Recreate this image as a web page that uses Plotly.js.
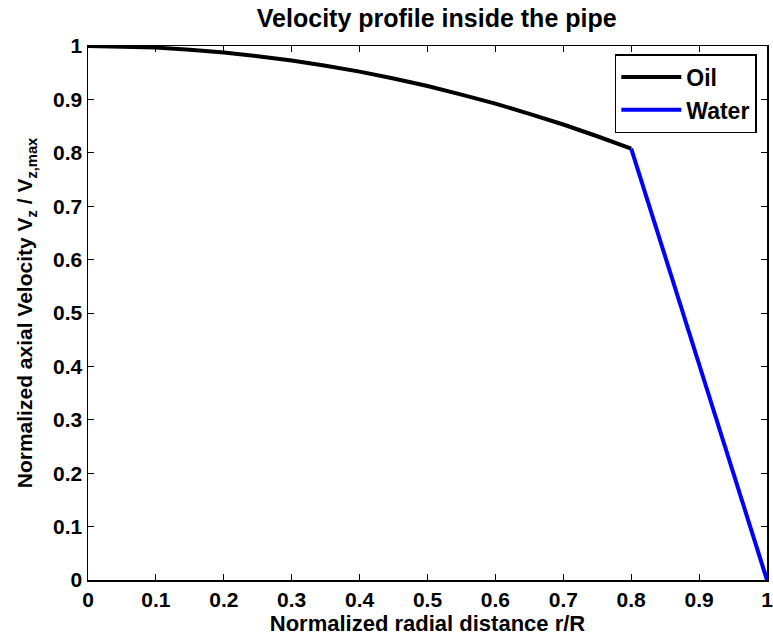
<!DOCTYPE html>
<html>
<head>
<meta charset="utf-8">
<script src="https://cdn.plot.ly/plotly-3.0.1.min.js"></script>
<style>html,body{margin:0;padding:0;background:#fff;}#chart{width:773px;height:639px;}</style>
</head>
<body>
<div id="chart"></div>
<script>
// Oil region (r/R from 0 to 0.8)
const oilR = [0, 0.05, 0.1, 0.15, 0.2, 0.25, 0.3, 0.35, 0.4, 0.45, 0.5, 0.55, 0.6, 0.65, 0.7, 0.75, 0.8];
const oilV = [1.000, 0.999, 0.997, 0.993, 0.988, 0.981, 0.973, 0.963, 0.952, 0.939, 0.925, 0.909, 0.892, 0.873, 0.853, 0.831, 0.808];
// Water region (r/R from 0.8 to 1)
const waterR = [0.8, 1.0];
const waterV = [0.808, 0.0];
const tickVals = [0, 0.1, 0.2, 0.3, 0.4, 0.5, 0.6, 0.7, 0.8, 0.9, 1];
const tickText = ['0', '0.1', '0.2', '0.3', '0.4', '0.5', '0.6', '0.7', '0.8', '0.9', '1'];

const fontFam = 'Liberation Sans, Arial, sans-serif';
const traces = [
  {x: oilR, y: oilV, mode: 'lines', name: '<b>Oil</b>', line: {color: '#000000', width: 4}},
  {x: waterR, y: waterV, mode: 'lines', name: '<b>Water</b>', line: {color: '#0000ff', width: 4}}
];
const axisCommon = {
  range: [0, 1], tickvals: tickVals, ticktext: tickText.map(t => '<b>' + t + '</b>'),
  ticks: 'inside', ticklen: 6, tickcolor: '#000', tickwidth: 1,
  showline: true, linecolor: '#000', linewidth: 1.5, mirror: 'ticks',
  showgrid: false, zeroline: false, ticklabeloverflow: 'allow',
  tickfont: {family: fontFam, size: 21, color: '#000'}
};
const layout = {
  width: 773, height: 639,
  margin: {l: 88, r: 6, t: 46, b: 59},
  paper_bgcolor: '#fff', plot_bgcolor: '#fff',
  font: {family: fontFam, color: '#000'},
  title: {text: '<b>Velocity profile inside the pipe</b>', font: {family: fontFam, size: 25, color: '#000'}, x: 0.565, xanchor: 'center', y: 0.972, yanchor: 'middle'},
  xaxis: Object.assign({}, axisCommon, {
    title: {text: '<b>Normalized radial distance r/R</b>', font: {family: fontFam, size: 22, color: '#000'}, standoff: 4}
  }),
  yaxis: Object.assign({}, axisCommon, {
    title: {text: '<b>Normalized axial Velocity V<sub>z</sub> / V<sub>z,max</sub></b>', font: {family: fontFam, size: 21, color: '#000'}, standoff: 14}
  }),
  legend: {
    x: 0.985, xanchor: 'right', y: 0.985, yanchor: 'top',
    bgcolor: '#fff', bordercolor: '#000', borderwidth: 1.5,
    font: {family: fontFam, size: 23, color: '#000'},
    tracegroupgap: 0, itemwidth: 60
  },
  showlegend: true
};
Plotly.newPlot('chart', traces, layout, {displayModeBar: false, staticPlot: true});
</script>
</body>
</html>
